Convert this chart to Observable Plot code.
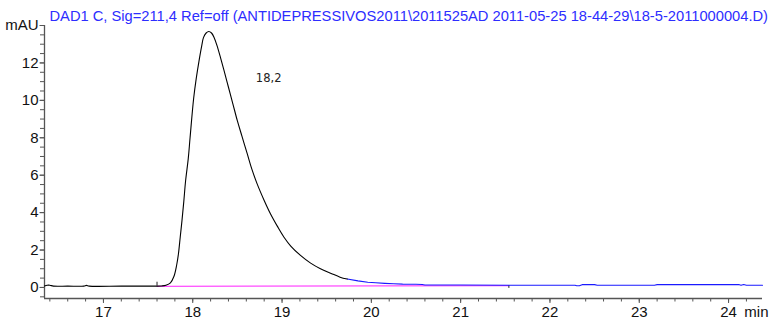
<!DOCTYPE html>
<html>
<head>
<meta charset="utf-8">
<script src="https://cdn.jsdelivr.net/npm/d3@7"></script>
<script src="https://cdn.jsdelivr.net/npm/@observablehq/plot@0.6"></script>
<style>
  html, body { margin: 0; padding: 0; background: #fff; }
  #chart svg { display: block; }
</style>
</head>
<body>
<div id="chart"></div>
<script>
// DAD1 C chromatogram, signal 211,4 nm
const title = "DAD1 C, Sig=211,4 Ref=off (ANTIDEPRESSIVOS2011\\2011525AD 2011-05-25 18-44-29\\18-5-2011000004.D)";

// Visible window (min, mAU)
const timeDomain = [16.34, 24.38];
const signalDomain = [-0.59, 14];

// Trace up to the end of the integrated peak (black)
const peakTime = [16.34, 16.37, 16.40, 16.44, 16.60, 16.78, 16.81, 16.84, 17.20, 17.58, 17.60, 17.65, 17.70, 17.75,
  17.79, 17.82, 17.84, 17.86, 17.88, 17.90, 17.92, 17.95, 17.97, 18.01, 18.04, 18.07, 18.10, 18.12, 18.15,
  18.18, 18.21, 18.24, 18.27, 18.31, 18.35, 18.40, 18.45, 18.50, 18.55, 18.61, 18.66, 18.72, 18.80, 18.87,
  18.95, 19.02, 19.10, 19.21, 19.32, 19.43, 19.55, 19.65, 19.73];
const peakSignal = [0.08, 0.12, 0.12, 0.07, 0.07, 0.07, 0.11, 0.07, 0.07, 0.07, 0.07, 0.08, 0.12, 0.25,
  0.6, 1.2, 1.8, 2.7, 3.6, 4.6, 5.7, 6.9, 8.0, 10.1, 11.2, 12.1, 12.9, 13.35, 13.6,
  13.68, 13.6, 13.35, 12.95, 12.3, 11.6, 10.7, 9.8, 8.9, 8.1, 7.15, 6.35, 5.55, 4.65, 3.94,
  3.25, 2.7, 2.2, 1.7, 1.3, 1.0, 0.75, 0.55, 0.45];

// Remaining trace (blue)
const tailTime = [19.73, 19.85, 19.96, 20.05, 20.15, 20.25, 20.35, 20.50, 20.57, 20.60, 21.00, 21.60, 22.28, 22.30,
  22.33, 22.36, 22.50, 22.53, 23.17, 23.20, 24.12, 24.14, 24.17, 24.20, 24.38];
const tailSignal = [0.45, 0.35, 0.28, 0.25, 0.22, 0.20, 0.18, 0.17, 0.16, 0.13, 0.13, 0.12, 0.12, 0.09,
  0.09, 0.15, 0.15, 0.12, 0.12, 0.15, 0.15, 0.12, 0.16, 0.12, 0.12];

// Integration baseline and its start/end markers
const baseTime = [17.60, 21.54];
const baseSignal = [0.06, 0.10];
const markerTime = [17.60, 21.54];
const markerLow = [0.07, -0.05];
const markerHigh = [0.28, 0.10];

// Peak annotation (retention time)
const peakLabelTime = [18.85];
const peakLabelSignal = [11.2];
const peakLabelText = ["18,2"];

// Axis ticks
const xMajor = [17, 18, 19, 20, 21, 22, 23, 24];
const xMinor = d3.range(16.4, 24.39, 0.2).map(v => +v.toFixed(1));
const yMajor = [0, 2, 4, 6, 8, 10, 12, 14];
const yMinor = d3.range(-0.5, 14.01, 0.5);
const yTickText = v => (v === 14 ? "mAU" : String(v));

const peak = peakTime.map((t, i) => ({t, v: peakSignal[i]}));
const tail = tailTime.map((t, i) => ({t, v: tailSignal[i]}));
const base = baseTime.map((t, i) => ({t, v: baseSignal[i]}));
const markers = markerTime.map((t, i) => ({t, lo: markerLow[i], hi: markerHigh[i]}));
const labels = peakLabelTime.map((t, i) => ({t, v: peakLabelSignal[i], s: peakLabelText[i]}));

const axisColor = "#555";
const labelFont = "Liberation Sans, Arial, sans-serif";
const labelSize = 15;

const chart = Plot.plot({
  width: 773,
  height: 322,
  marginTop: 25,
  marginBottom: 24,
  marginLeft: 44,
  marginRight: 11,
  style: {fontFamily: labelFont, fontSize: "15px", color: "#111", background: "#fff"},
  x: {domain: timeDomain, axis: null},
  y: {domain: signalDomain, axis: null},
  marks: [
    // axis lines
    Plot.ruleX([timeDomain[0]], {stroke: axisColor, strokeWidth: 1.3}),
    Plot.ruleY([signalDomain[0]], {stroke: axisColor, strokeWidth: 1.3}),
    // minor and major ticks
    Plot.axisX({ticks: xMinor, tickSize: 3.5, text: null, stroke: axisColor, label: null}),
    Plot.axisY({ticks: yMinor, tickSize: 4, text: null, stroke: axisColor, label: null}),
    Plot.axisX({ticks: xMajor, tickSize: 5, text: null, stroke: axisColor, label: null}),
    Plot.axisY({ticks: yMajor, tickSize: 4.5, text: null, stroke: axisColor, label: null}),
    // tick labels
    Plot.text(xMajor, {x: d => d, frameAnchor: "bottom", lineAnchor: "top", dy: 8,
      fontSize: labelSize, fill: "#111"}),
    Plot.text(yMajor, {y: d => d, text: yTickText, frameAnchor: "left", textAnchor: "end", dx: -6,
      fontSize: labelSize, fill: "#111"}),
    Plot.text(["min"], {frameAnchor: "bottom-right", lineAnchor: "top", dx: 6, dy: 8, textAnchor: "end",
      fontSize: labelSize, fill: "#111"}),
    // integration baseline
    Plot.line(base, {x: "t", y: "v", stroke: "#ff4dff", strokeWidth: 1.3}),
    Plot.ruleX(markers, {x: "t", y1: "lo", y2: "hi", stroke: "#222", strokeWidth: 1}),
    // signal trace
    Plot.line(tail, {x: "t", y: "v", stroke: "#1a1aff", strokeWidth: 1.1, curve: "linear"}),
    Plot.line(peak, {x: "t", y: "v", stroke: "#000", strokeWidth: 1.1, curve: "catmull-rom"}),
    // peak label
    Plot.text(labels, {x: "t", y: "v", text: "s", fontFamily: "DejaVu Sans, sans-serif", fontSize: 11.5, fill: "#222"}),
    // title
    Plot.text([title], {frameAnchor: "top-left", dx: 5, dy: -9.5, textAnchor: "start", lineAnchor: "middle",
      fontSize: 14.7, fill: "#2d2dff"})
  ]
});

document.getElementById("chart").appendChild(chart);
</script>
</body>
</html>
